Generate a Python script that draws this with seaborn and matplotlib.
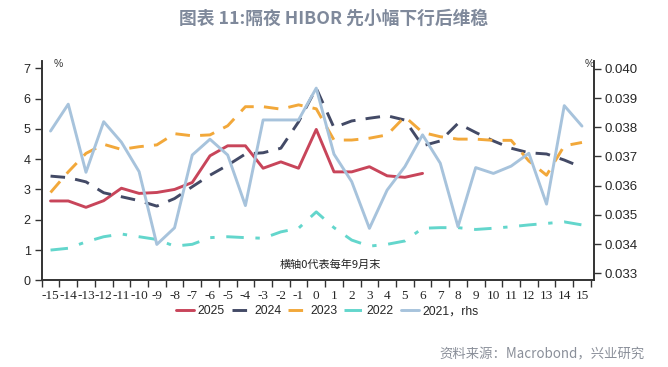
import numpy as np
import pandas as pd
import seaborn as sns
import matplotlib.pyplot as plt

# months relative to end of September (0)
months = list(range(-15, 16))

y2025 = [2.62, 2.62, 2.41, 2.63, 3.04, 2.87, 2.90, 3.00, 3.23, 4.11, 4.44, 4.44, 3.70, 3.91, 3.70,
         4.98, 3.58, 3.58, 3.75, 3.45, 3.40, 3.53]
y2024 = [3.44, 3.39, 3.25, 2.89, 2.76, 2.63, 2.45, 2.70, 3.09, 3.47, 3.80, 4.17, 4.21, 4.36, 5.23,
         6.34, 5.04, 5.26, 5.35, 5.43, 5.29, 4.44, 4.60, 5.18, 4.88, 4.60, 4.36, 4.21, 4.17, 3.97, 3.73]
y2023 = [2.90, 3.58, 4.19, 4.49, 4.32, 4.41, 4.47, 4.84, 4.77, 4.80, 5.10, 5.73, 5.73, 5.65, 5.79,
         5.66, 4.63, 4.63, 4.69, 4.80, 5.40, 4.88, 4.74, 4.66, 4.66, 4.62, 4.62, 3.94, 3.47, 4.44, 4.55]
y2022 = [1.00, 1.06, 1.27, 1.44, 1.53, 1.44, 1.35, 1.13, 1.19, 1.41, 1.44, 1.41, 1.39, 1.60, 1.72,
         2.26, 1.74, 1.33, 1.13, 1.19, 1.30, 1.72, 1.74, 1.74, 1.68, 1.72, 1.77, 1.83, 1.88, 1.93, 1.83]
y2021 = [0.03787, 0.03879, 0.03646, 0.03819, 0.03749, 0.03648, 0.03399, 0.03456, 0.03705, 0.03759,
         0.03705, 0.03532, 0.03825, 0.03825, 0.03825, 0.03934, 0.03708, 0.03614, 0.03454, 0.03585,
         0.03665, 0.03774, 0.03677, 0.03460, 0.03662, 0.03642, 0.03667, 0.03711, 0.03537, 0.03874,
         0.03804]

c2025 = "#c8455a"
c2024 = "#434a66"
c2023 = "#f2a83a"
c2022 = "#63d6cc"
c2021 = "#a7c3dc"

sns.set_style("ticks")
plt.rcParams['font.family'] = ['Liberation Sans', 'Noto Sans CJK SC']

fig = plt.figure(figsize=(6.68, 3.67), dpi=100)
ax = fig.add_axes([0.0624, 0.236, 0.889 - 0.0624, 0.834 - 0.236])
ax2 = ax.twinx()

lw = 2.1
sns.lineplot(x=months[:len(y2025)], y=y2025, ax=ax, color=c2025, lw=lw, label="2025", legend=False)
sns.lineplot(x=months, y=y2024, ax=ax, color=c2024, lw=lw, label="2024", legend=False)
sns.lineplot(x=months, y=y2023, ax=ax, color=c2023, lw=lw, label="2023", legend=False)
sns.lineplot(x=months, y=y2022, ax=ax, color=c2022, lw=lw, label="2022", legend=False)
sns.lineplot(x=months, y=y2021, ax=ax2, color=c2021, lw=lw, label="2021, rhs", legend=False)

ax.lines[1].set_dashes([5, 3.5])
ax.lines[2].set_dashes([5, 3.5])
ax.lines[3].set_dashes([6, 4, 1.5, 4])

ax.set_xlim(-15.5, 15.67)
ax.set_ylim(0, 7.24)
ax2.set_ylim(0.03276, 0.04027)
ax.set_yticks(range(0, 8))
ax2.set_yticks([0.033, 0.034, 0.035, 0.036, 0.037, 0.038, 0.039, 0.040])
ax2.set_yticklabels([f"{v:.3f}" for v in ax2.get_yticks()])

# tick marks between categories, labels at the centres
ax.set_xticks([m - 0.5 for m in months] + [15.5])
ax.set_xticklabels([])
ax.set_xticks(months, minor=True)
ax.set_xticklabels([str(m) for m in months], minor=True, family='Liberation Serif', fontsize=9.5)
ax.tick_params(axis='x', which='major', length=5, width=1, color='#333333', direction='out')
ax.tick_params(axis='x', which='minor', length=0, pad=7)
ax.tick_params(axis='y', length=5, width=1, color='#333333', labelsize=9, pad=3)
ax2.tick_params(axis='y', length=5, width=1, color='#333333', labelsize=9.5, pad=3)

for a in (ax, ax2):
    a.spines['top'].set_visible(False)
    for s in ('left', 'right', 'bottom'):
        a.spines[s].set_color('#333333')
        a.spines[s].set_linewidth(1.2)

ax.text(-14.8, 7.05, "%", fontsize=7.5, color='#333333')
ax.text(15.15, 7.05, "%", fontsize=7.5, color='#333333')
ax.text(0.8, 0.42, "横轴0代表每年9月末", fontsize=8, ha='center', color='#222222',
        family=['Noto Sans CJK SC'])

handles = ax.lines[:4] + ax2.lines[:1]
labels = ["2025", "2024", "2023", "2022", "2021，rhs"]
fig.legend(handles, labels, loc='center', bbox_to_anchor=(0.49, 0.152), ncol=5, frameon=False,
           fontsize=8.7, handlelength=1.5, handletextpad=0.3, columnspacing=0.6)

fig.text(0.5, 0.95, "图表 11:隔夜 HIBOR 先小幅下行后维稳", ha='center', va='center',
         fontsize=12.8, fontweight='bold', color='#7f899b', family=['Noto Sans CJK SC'])
fig.text(0.965, 0.033, "资料来源：Macrobond，兴业研究", ha='right', va='center',
         fontsize=9.6, color='#8a8f99', family=['Noto Sans CJK SC'])

fig.savefig("out.png", dpi=100)
